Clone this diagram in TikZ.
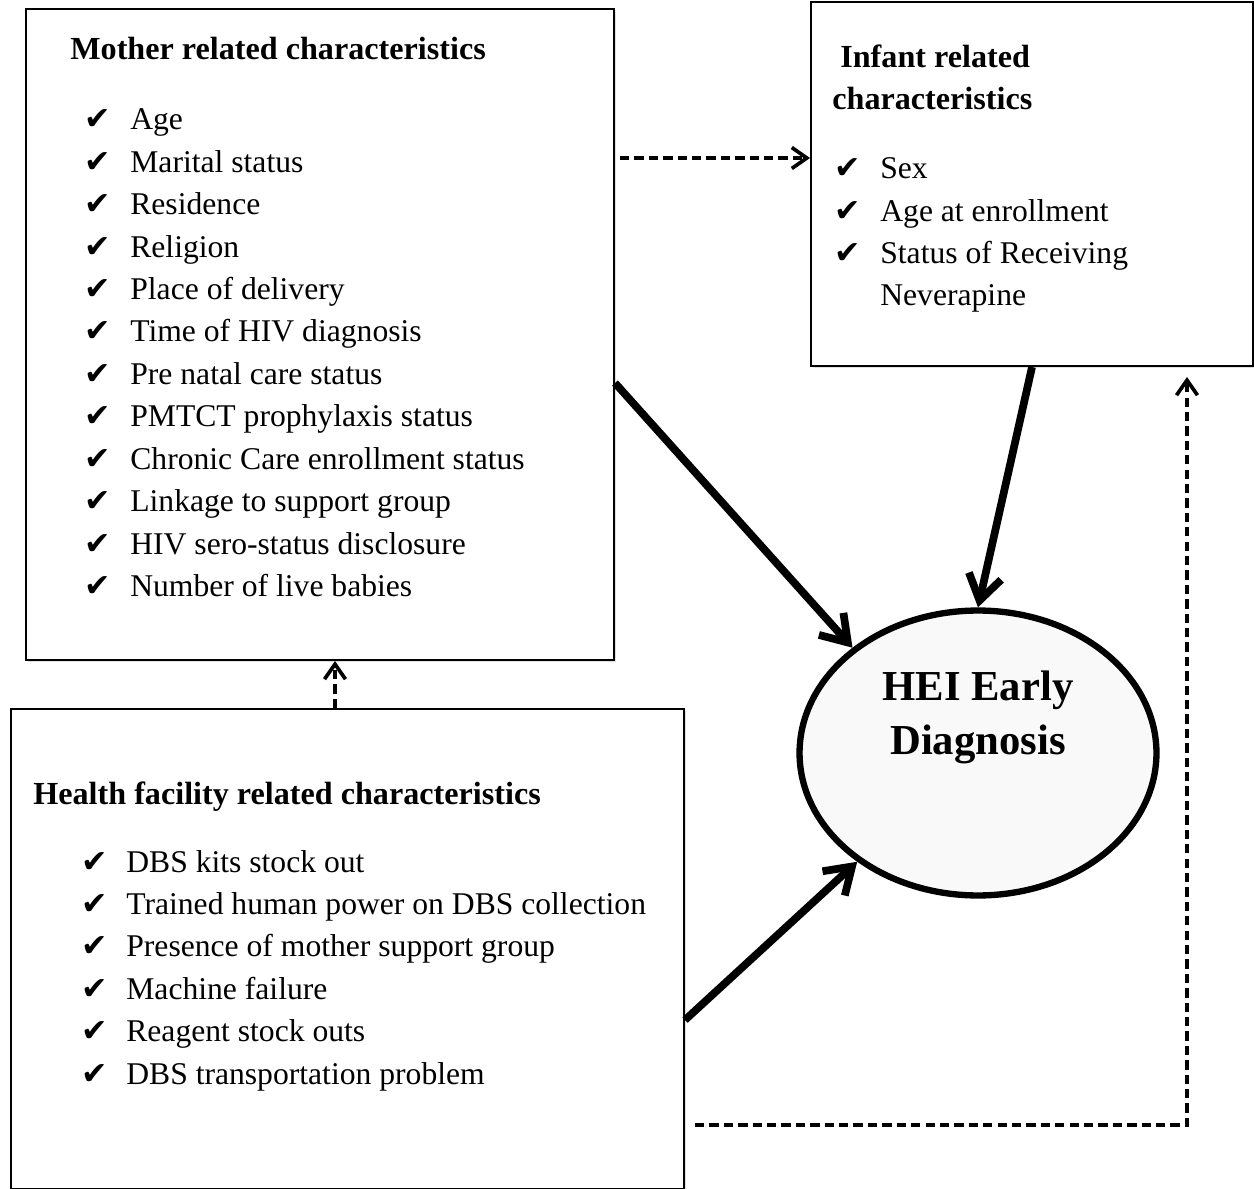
\documentclass[tikz,border=0pt]{standalone}
\usepackage{fontspec}
\setmainfont{Liberation Serif}
\newfontfamily\ckfont{DejaVu Sans}
\usetikzlibrary{arrows.meta,shapes.geometric,shadows}

\tikzset{
  box/.style={draw, line width=1.2pt, fill=white, anchor=north west, inner sep=0pt,
    drop shadow={shadow xshift=1.2pt, shadow yshift=-1.2pt, opacity=0.25}},
  title/.style={anchor=base west, inner sep=0pt, font=\fontsize{18.3}{24.1}\selectfont\bfseries},
  item/.style={anchor=base west, inner sep=0pt, font=\fontsize{18}{24.1}\selectfont},
  tick/.style={anchor=base west, inner sep=0pt, font=\ckfont\fontsize{18}{20}\selectfont},
  causal/.style={line width=4.4pt, -{Straight Barb[length=0.5cm, width=0.66cm]}},
  link/.style={line width=2.1pt, dash pattern=on 5.3pt off 2.9pt,
    -{Straight Barb[length=0.3cm, width=0.42cm]}}
}

\begin{document}
\begin{tikzpicture}[x=0.02cm, y=-0.02cm]
\useasboundingbox (0,0) rectangle (1254,1189);

% boxes
\node[box, minimum width=11.76cm, minimum height=13.02cm] (mother) at (25,8) {};
\node[box, minimum width=8.84cm, minimum height=7.28cm] (infant) at (810,1) {};
\node[box, minimum width=13.46cm, minimum height=9.6cm] (health) at (10,708) {};
\node[draw, ellipse, line width=3.6pt, fill=gray!5, minimum width=7.14cm, minimum height=5.7cm,
  drop shadow={shadow xshift=1.2pt, shadow yshift=-1.2pt, opacity=0.25}] (diag) at (978,753) {};
\node[anchor=north, inner sep=0pt, align=center, font=\fontsize{24.3}{30.6}\selectfont\bfseries]
  (diagtext) at (978,671) {HEI Early\\Diagnosis};

% mother related
\node[title] (mtitle) at (70,60) {Mother related characteristics};
\foreach \txt [count=\i] in {Age, Marital status, Residence, Religion, Place of delivery,
  Time of HIV diagnosis, Pre natal care status, PMTCT prophylaxis status,
  Chronic Care enrollment status, Linkage to support group, HIV sero-status disclosure,
  Number of live babies} {
  \node[tick] (mc\i) at (84,{130+42.4*(\i-1)}) {✔};
  \node[item] (m\i) at (130,{130+42.4*(\i-1)}) {\txt};
}

% infant related
\node[title] (ititle1) at (840,68) {Infant related};
\node[title] (ititle2) at (832,110) {characteristics};
\foreach \txt [count=\i] in {Sex, Age at enrollment, Status of Receiving} {
  \node[tick] (ic\i) at (834,{179+42.4*(\i-1)}) {✔};
  \node[item] (i\i) at (880,{179+42.4*(\i-1)}) {\txt};
}
\node[item] (i4) at (880,306) {Neverapine};

% health facility related
\node[title] (htitle) at (33,804) {Health facility related characteristics};
\foreach \txt [count=\i] in {DBS kits stock out, Trained human power on DBS collection,
  Presence of mother support group, Machine failure, Reagent stock outs,
  DBS transportation problem} {
  \node[tick] (hc\i) at (81,{872+42.4*(\i-1)}) {✔};
  \node[item] (h\i) at (126,{872+42.4*(\i-1)}) {\txt};
}

% connectors
\coordinate (hstart) at (695,1125);
\coordinate (hcorner) at (1187,1125);
\coordinate (hend) at (1187,377);
\coordinate (mstart) at (620,158);
\draw[causal] (mother.east |- 0,383) -- (diag.140);
\draw[causal] (infant.south) -- (diag.north);
\draw[causal] (health.east |- 0,1020) -- (diag.222);
\draw[link] (mstart) -- (infant.west |- mstart);
\draw[link] (health.north -| 335,0) -- (mother.south -| 335,0);
\draw[link] (hstart) -- (hcorner) -- (hend);
\end{tikzpicture}
\end{document}
